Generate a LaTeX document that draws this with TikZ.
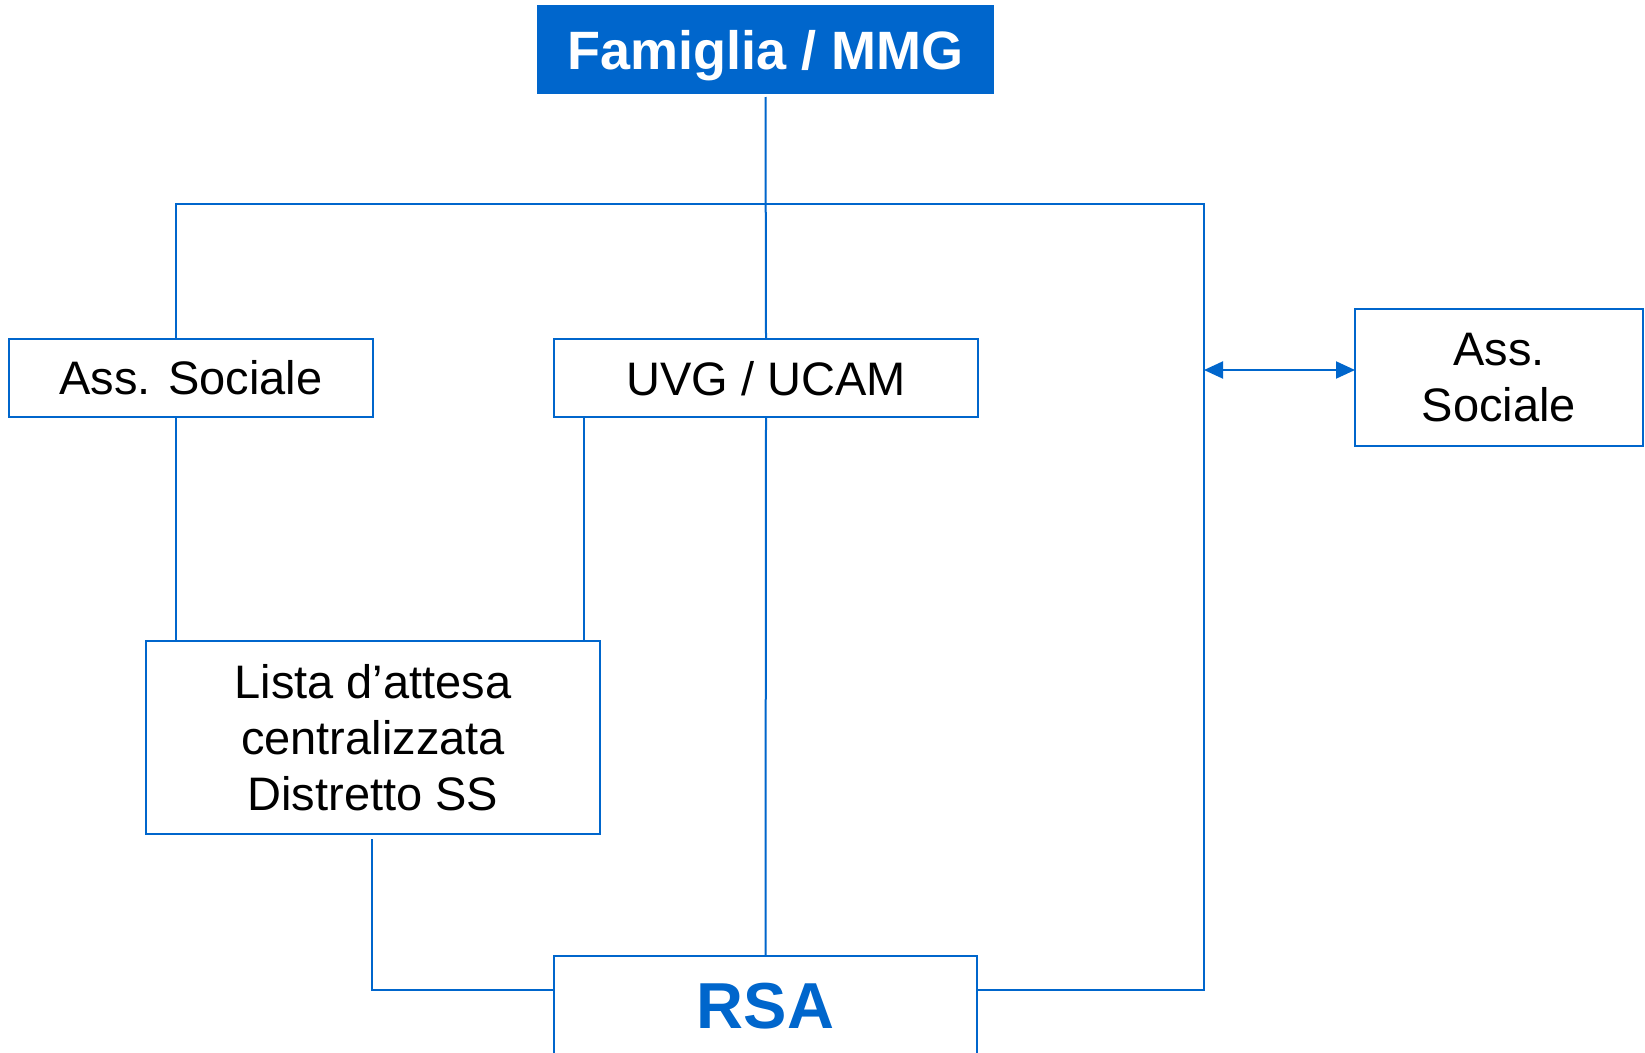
\documentclass[tikz,border=0pt]{standalone}
\usepackage{fontspec}
\setmainfont{Liberation Sans}
\usetikzlibrary{arrows.meta}
\definecolor{blu}{HTML}{0066CC}
\begin{document}
\begin{tikzpicture}[x=1pt,y=-1pt,
  box/.style={draw=blu,line width=2pt,inner sep=0pt,outer sep=0pt,fill=white,align=center},
  conn/.style={draw=blu,line width=2pt},
  tip/.style={Triangle[length=19pt,width=17pt]},
  txt/.style={font=\fontsize{47}{56}\selectfont}]
\useasboundingbox (0,0) rectangle (1645,1052);
\clip (0,0) rectangle (1645,1052);
\fill[white] (0,0) rectangle (1645,1052);
% nodes
\node[box,fill=blu,minimum width=455pt,minimum height=87pt,text depth=0pt,text=white,font=\fontsize{54}{64}\selectfont\bfseries] (fam) at (765.5,49.5) {Famiglia / MMG};
\node[box,txt,minimum width=364pt,minimum height=78pt] (assL) at (191,378) {Ass. Sociale};
\node[box,txt,minimum width=424pt,minimum height=78pt,text depth=0pt] (uvg) at (766,378) {UVG / UCAM};
\node[box,txt,minimum width=288pt,minimum height=137pt] (assR) at (1499,377.5) {Ass.\\Sociale};
\node[box,txt,minimum width=454pt,minimum height=193pt] (lista) at (373,737.5) {Lista d’attesa\\centralizzata\\Distretto SS};
\node[box,minimum width=423pt,minimum height=100pt,text=blu,font=\fontsize{65}{78}\selectfont\bfseries] (rsa) at (765.5,1006) {RSA};
% junction coordinates
\coordinate (tl) at (176,203.5);
\coordinate (tr) at (1204,203.5);
\coordinate (rj) at (1204,990);
\coordinate (lj) at (372,990);
\coordinate (ux) at (584,417);
\coordinate (ar) at (1204,370);
% connectors
\draw[conn] ([yshift=-4pt]fam.south) -- (uvg.north);
\draw[conn] (tl |- assL.north) -- (tl) -- (tr) -- (rj) -- (rj -| rsa.east);
\draw[conn] (tl |- assL.south) -- (tl |- lista.north);
\draw[conn] (ux) -- (ux |- lista.north);
\draw[conn] (uvg.south) -- (rsa.north);
\draw[conn] ([yshift=-5pt]lj |- lista.south) -- (lj) -- (lj -| rsa.west);
\draw[conn,{Triangle[length=19pt,width=17pt]}-{Triangle[length=19pt,width=17pt]}] (ar) -- (ar -| assR.west);
\end{tikzpicture}
\end{document}
